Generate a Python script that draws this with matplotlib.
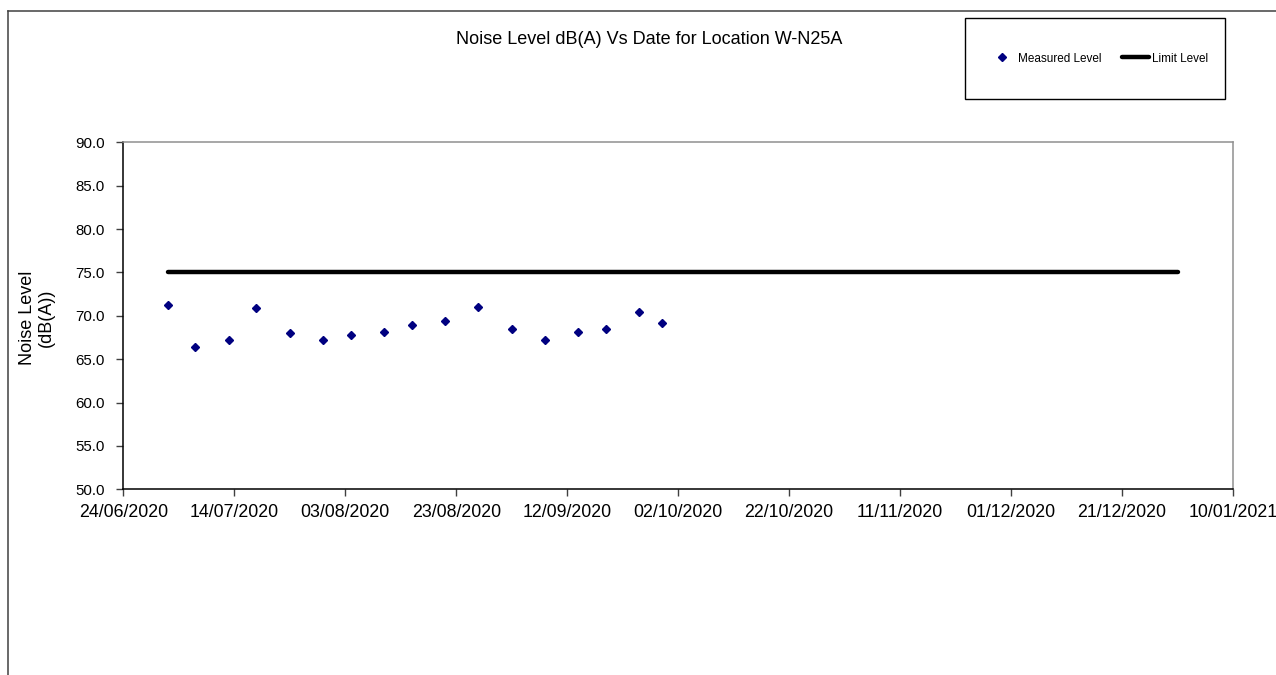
import numpy as np
import pandas as pd
import matplotlib
matplotlib.use('Agg')
import matplotlib.pyplot as plt
import matplotlib.dates as mdates
from matplotlib.lines import Line2D
from matplotlib.patches import Rectangle

plt.rcParams['font.family'] = ['Liberation Sans', 'DejaVu Sans']

# Measured noise levels
dates = ['02/07/2020', '07/07/2020', '13/07/2020', '18/07/2020', '24/07/2020',
         '30/07/2020', '04/08/2020', '10/08/2020', '15/08/2020', '21/08/2020',
         '27/08/2020', '02/09/2020', '08/09/2020', '14/09/2020', '19/09/2020',
         '25/09/2020', '29/09/2020']
levels = [71.3, 66.4, 67.2, 70.9, 68.0, 67.2, 67.8, 68.1, 68.9, 69.4,
          71.0, 68.5, 67.2, 68.1, 68.5, 70.4, 69.2]

limit_dates = ['02/07/2020', '31/12/2020']
limit_values = [75.0, 75.0]

x_start, x_end = '24/06/2020', '10/01/2021'
y_ticks = [50, 55, 60, 65, 70, 75, 80, 85, 90]

d = pd.to_datetime(dates, format='%d/%m/%Y')
ld = pd.to_datetime(limit_dates, format='%d/%m/%Y')
xs = pd.to_datetime(x_start, format='%d/%m/%Y')
xe = pd.to_datetime(x_end, format='%d/%m/%Y')

W, H = 1276, 675
fig = plt.figure(figsize=(W / 100, H / 100), dpi=100)
ax = fig.add_axes([123.3 / W, 1 - 489.3 / H, (1233 - 123.3) / W, (489.3 - 142.3) / H])

ax.plot(d, levels, linestyle='none', marker='D', ms=4.3, color='#000080',
        mec='#000080', label='Measured Level', zorder=3)
ax.plot(ld, limit_values, color='black', lw=3.2, solid_capstyle='round',
        label='Limit Level', zorder=2)

ax.set_xlim(xs, xe)
ax.set_xticks(pd.date_range(xs, xe, freq='20D'))
ax.xaxis.set_major_formatter(mdates.DateFormatter('%d/%m/%Y'))
ax.set_ylim(50, 90)
ax.set_yticks(y_ticks)
ax.yaxis.set_major_formatter(matplotlib.ticker.FormatStrFormatter('%.1f'))

ax.tick_params(axis='x', labelsize=12.8, length=5, width=1, color='#404040', pad=5.5)
ax.tick_params(axis='y', labelsize=10.8, length=5, width=1, color='#404040', pad=8.5)
for s in ['left', 'bottom']:
    ax.spines[s].set_color('black')
    ax.spines[s].set_linewidth(1.1)
for s in ['top', 'right']:
    ax.spines[s].set_color('#909090')
    ax.spines[s].set_linewidth(1.1)

fig.text(649.5 / W, 1 - 40 / H, 'Noise Level dB(A) Vs Date for Location W-N25A',
         ha='center', va='center', fontsize=13)
fig.text(37 / W, 1 - 318 / H, 'Noise Level\n(dB(A))', ha='center', va='center',
         rotation=90, multialignment='center', fontsize=13, linespacing=1.15)

# legend box
fig.add_artist(Rectangle((965 / W, 1 - 99 / H), (1225 - 965) / W, (99 - 17.7) / H,
                         transform=fig.transFigure, fill=False, edgecolor='black', lw=1.0))
handles, labels = ax.get_legend_handles_labels()
fig.legend(handles, labels, loc='center', bbox_to_anchor=(1098 / W, 1 - 58.5 / H),
           ncol=2, frameon=False, fontsize=8.5, handlelength=2.3, handletextpad=0.2,
           columnspacing=1.8, markerscale=0.85)

# outer chart border (only top and left visible)
fig.add_artist(Line2D([7.5 / W, 1.0], [1 - 10.5 / H, 1 - 10.5 / H], transform=fig.transFigure,
                      color='#404040', lw=1.1))
fig.add_artist(Line2D([7.5 / W, 7.5 / W], [0.0, 1 - 10.5 / H], transform=fig.transFigure,
                      color='#404040', lw=1.1))

fig.savefig('out.png', dpi=100)
plt.close(fig)
